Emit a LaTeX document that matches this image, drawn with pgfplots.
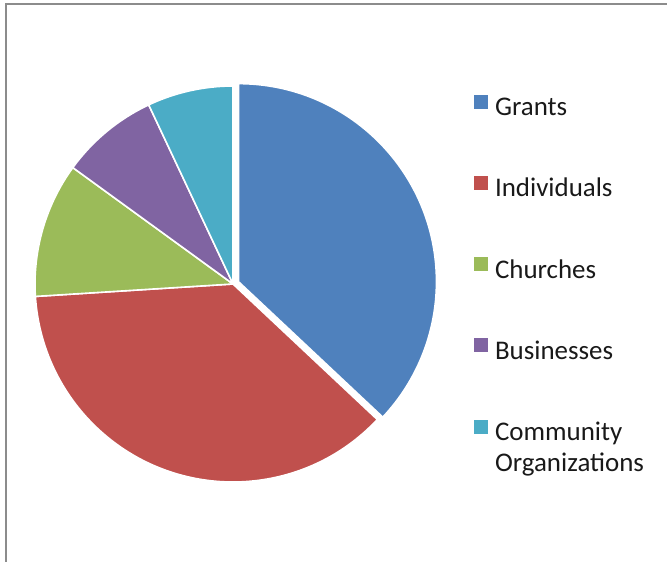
\documentclass[border=0pt]{standalone}
\usepackage{pgfplots}
\pgfplotsset{compat=1.18}
\usepackage{pgfplotstable}
\usepackage{fontspec}
\setmainfont{Carlito}

\definecolor{cGrants}{HTML}{4F81BD}
\definecolor{cIndiv}{HTML}{C0504D}
\definecolor{cChurch}{HTML}{9BBB59}
\definecolor{cBusin}{HTML}{8064A2}
\definecolor{cCommun}{HTML}{4BACC6}
\definecolor{frameGray}{HTML}{8C8C8C}

% share in percent, slice colour, explode offset (axis units)
\pgfplotstableread{
value color explode
37 cGrants 0.03
37 cIndiv 0
11 cChurch 0
8 cBusin 0
7 cCommun 0
}\piedata

\begin{document}
\begin{tikzpicture}
\useasboundingbox (0pt,0pt) rectangle (500.25pt,420.75pt);
\draw[line width=1.5pt, frameGray] (4.5pt,-20pt) -- (4.5pt,418pt) -- (520pt,418pt);
\begin{axis}[
  at={(174.75pt,207.75pt)}, anchor=center,
  width=297pt, height=297pt, scale only axis,
  xmin=-1, xmax=1, ymin=-1, ymax=1,
  hide axis, clip=false,
  legend image code/.code={\fill[#1, draw=none] (0pt,0.75pt) rectangle (10.5pt,11.25pt);},
  legend cell align=left,
  legend style={draw=none, fill=none, at={(1.108,0.979)}, anchor=north west,
    row sep=41.2pt, column sep=5.25pt, inner sep=0pt,
    font={\fontsize{20.2}{23.25}\selectfont}, text=black!90,
    nodes={inner sep=0pt, text height=13pt, text depth=4pt}},
]
\pgfplotstablegetrowsof{\piedata}
\pgfmathtruncatemacro\nrows{\pgfplotsretval-1}
\def\cum{0}
\pgfplotsforeachungrouped \i in {0,...,\nrows}{
  \pgfplotstablegetelem{\i}{value}\of\piedata
  \let\v\pgfplotsretval
  \pgfplotstablegetelem{\i}{color}\of\piedata
  \let\col\pgfplotsretval
  \pgfplotstablegetelem{\i}{explode}\of\piedata
  \let\ex\pgfplotsretval
  \pgfmathsetmacro\sa{90-3.6*\cum}
  \pgfmathsetmacro\ea{90-3.6*(\cum+\v)}
  \pgfmathsetmacro\ma{(\sa+\ea)/2}
  \pgfmathsetmacro\ox{\ex*cos(\ma)}
  \pgfmathsetmacro\oy{\ex*sin(\ma)}
  \edef\temp{\noexpand\fill[fill=\col, draw=white, line width=1.2pt, line join=round]
    (axis cs:\ox,\oy) -- ++(\sa:148.5pt)
    arc[start angle=\sa, end angle=\ea, radius=148.5pt] -- cycle;}
  \temp
  \pgfmathsetmacro\cum{\cum+\v}
}
\addlegendimage{fill=cGrants}
\addlegendentry{Grants}
\addlegendimage{fill=cIndiv}
\addlegendentry{Individuals}
\addlegendimage{fill=cChurch}
\addlegendentry{Churches}
\addlegendimage{fill=cBusin}
\addlegendentry{Businesses}
\addlegendimage{fill=cCommun}
\addlegendentry{\begin{tabular}[t]{@{}l@{}}Community\\Organizations\end{tabular}}
\end{axis}
\end{tikzpicture}
\end{document}
